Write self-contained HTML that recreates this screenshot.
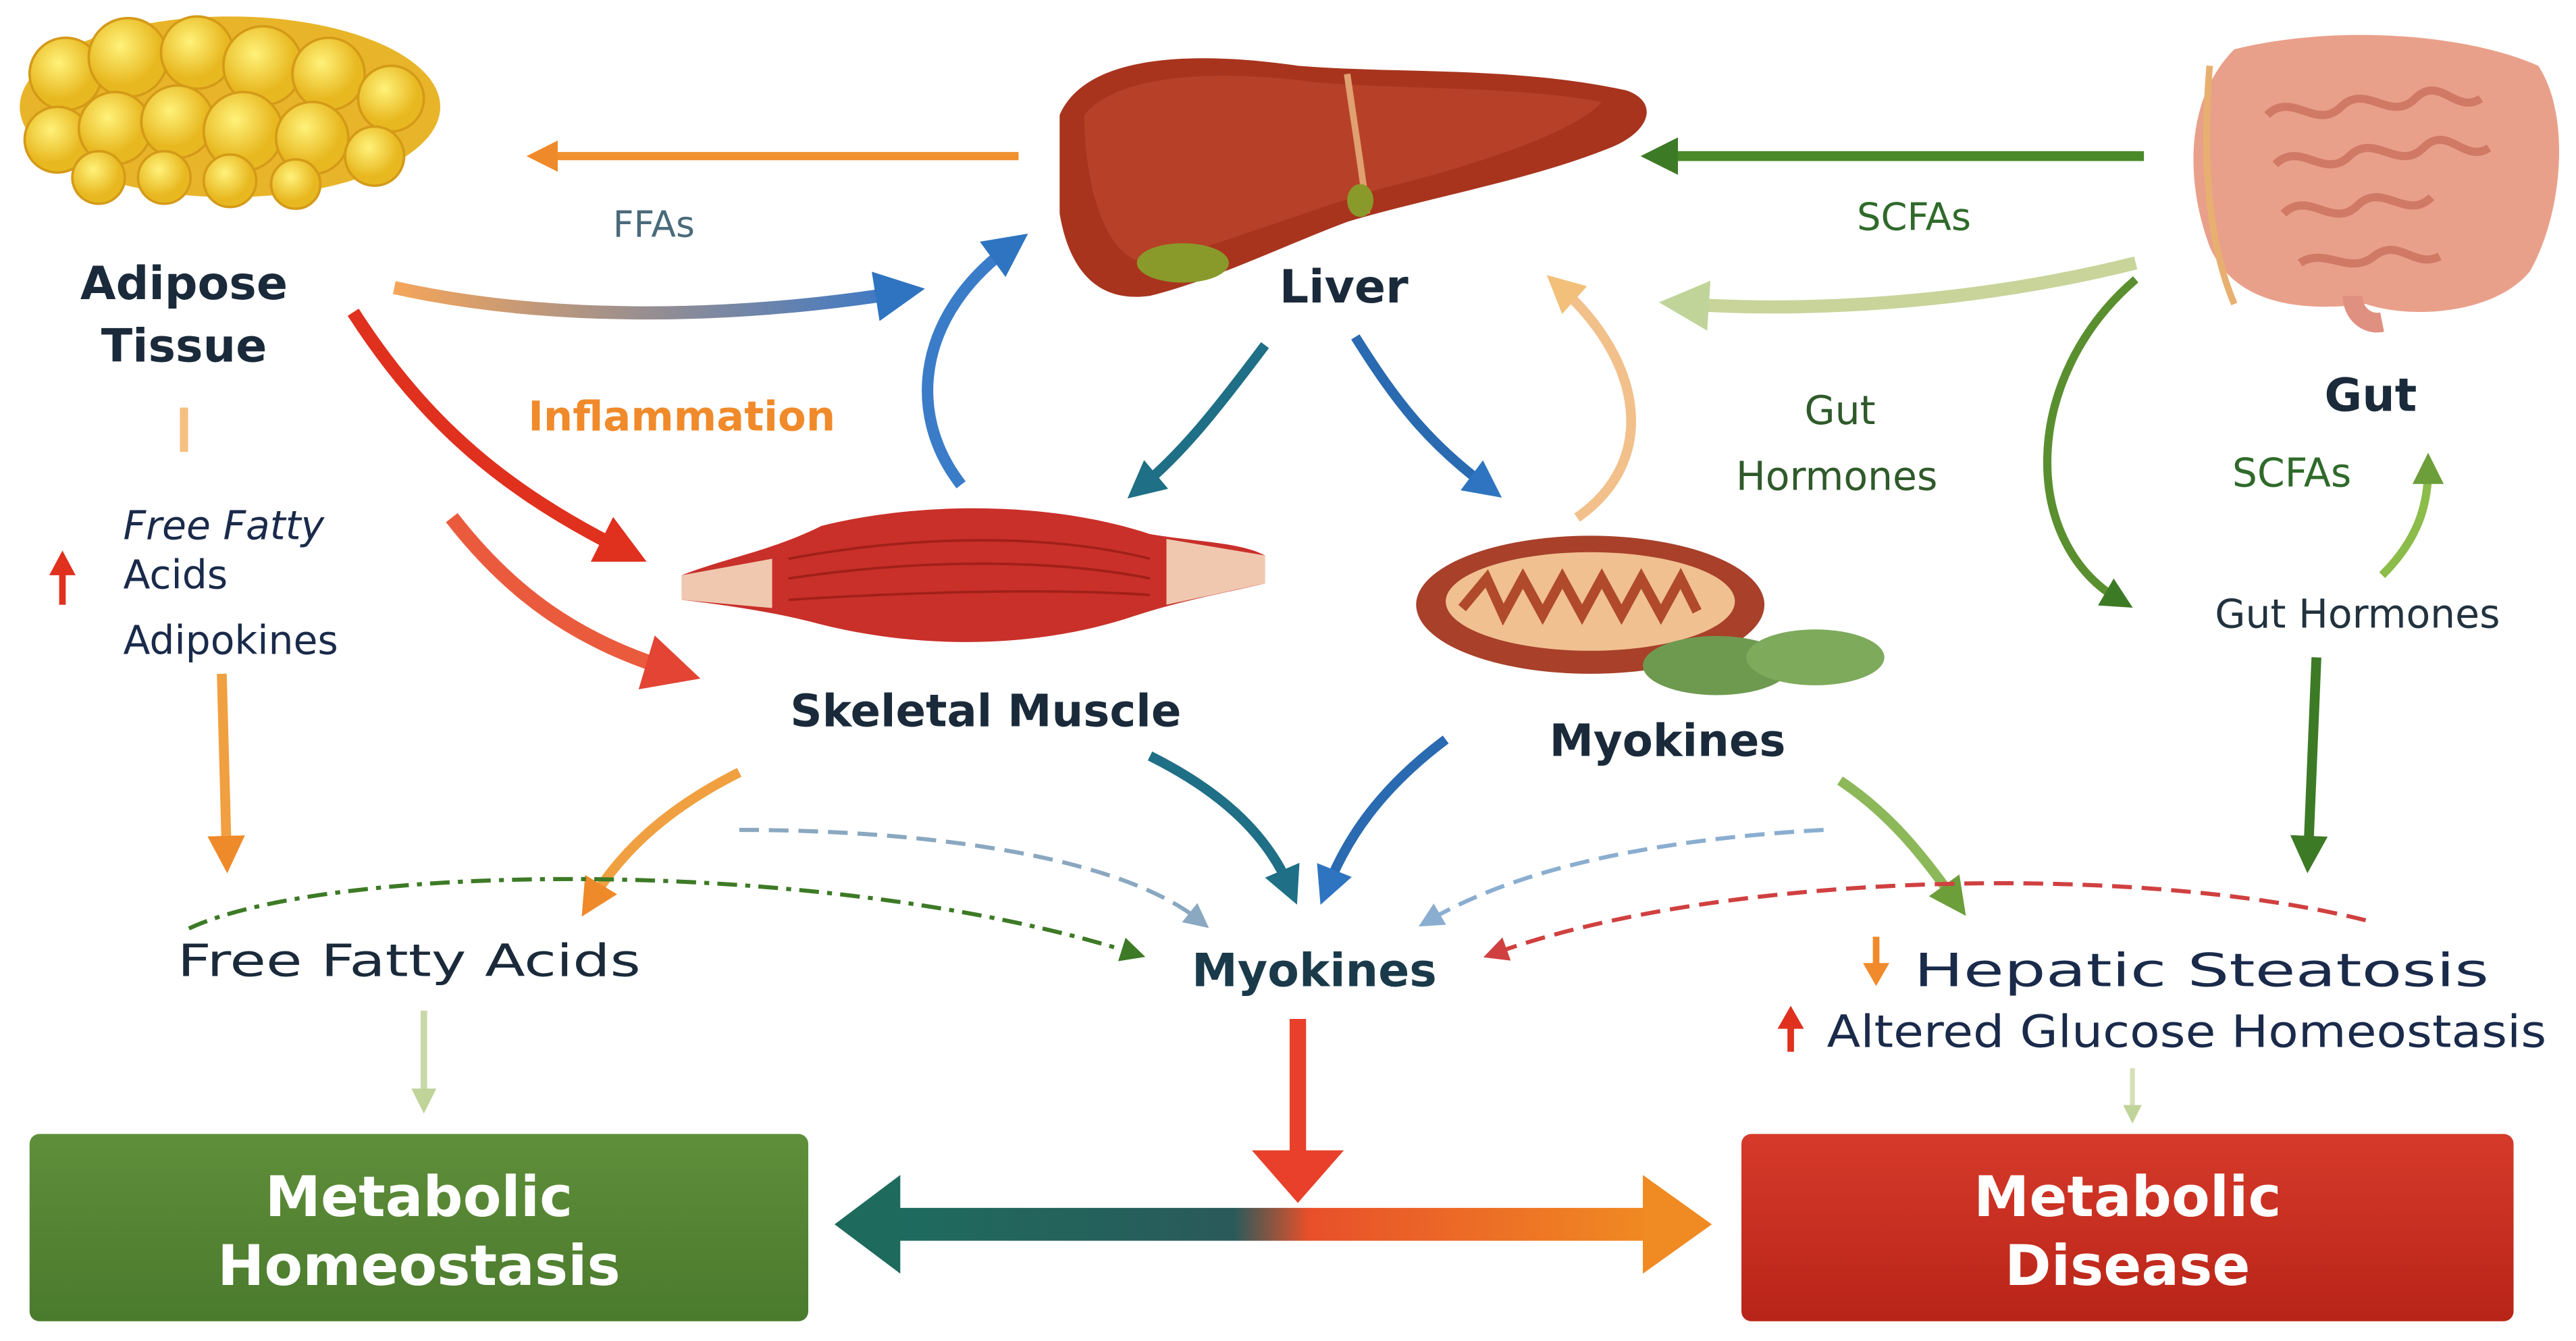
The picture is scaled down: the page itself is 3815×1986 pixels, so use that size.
<!DOCTYPE html>
<html><head><meta charset="utf-8"><style>
html,body{margin:0;padding:0;background:#fff;}
svg{display:block;}
text{font-family:"DejaVu Sans","Liberation Sans",sans-serif;}
</style></head><body>
<svg width="3815" height="1986" viewBox="0 0 1568 816" preserveAspectRatio="none" xmlns="http://www.w3.org/2000/svg">
<defs>
<linearGradient id="gh" x1="0" x2="1"><stop offset="0" stop-color="#1e6b5e"/><stop offset="0.45" stop-color="#2a5a5a"/><stop offset="0.55" stop-color="#e8502a"/><stop offset="1" stop-color="#f08a22"/></linearGradient>
<linearGradient id="gb" x1="0" y1="0" x2="0" y2="1"><stop offset="0" stop-color="#5f8f3a"/><stop offset="1" stop-color="#4a7a2c"/></linearGradient>
<linearGradient id="rb" x1="0" y1="0" x2="0" y2="1"><stop offset="0" stop-color="#d63a2a"/><stop offset="1" stop-color="#b82418"/></linearGradient>
<linearGradient id="adl" x1="0" x2="1"><stop offset="0" stop-color="#f5a55a"/><stop offset="1" stop-color="#3a78c8"/></linearGradient>
<radialGradient id="fat" cx="0.4" cy="0.35"><stop offset="0" stop-color="#fff27a"/><stop offset="1" stop-color="#e8b820"/></radialGradient>
<marker id="mO" viewBox="0 0 6 6" markerWidth="3.8" markerHeight="3.8" refX="3" refY="3" orient="auto"><path d="M0,0L6,3L0,6Z" fill="#ef8a2a"/></marker>
<marker id="mR" viewBox="0 0 6 6" markerWidth="3.8" markerHeight="3.8" refX="3" refY="3" orient="auto"><path d="M0,0L6,3L0,6Z" fill="#e0301e"/></marker>
<marker id="mB" viewBox="0 0 6 6" markerWidth="3.8" markerHeight="3.8" refX="3" refY="3" orient="auto"><path d="M0,0L6,3L0,6Z" fill="#2f74c0"/></marker>
<marker id="mT" viewBox="0 0 6 6" markerWidth="3.8" markerHeight="3.8" refX="3" refY="3" orient="auto"><path d="M0,0L6,3L0,6Z" fill="#1f6f86"/></marker>
<marker id="mG" viewBox="0 0 6 6" markerWidth="3.8" markerHeight="3.8" refX="3" refY="3" orient="auto"><path d="M0,0L6,3L0,6Z" fill="#3d7a26"/></marker>
<marker id="mLG" viewBox="0 0 6 6" markerWidth="3.8" markerHeight="3.8" refX="3" refY="3" orient="auto"><path d="M0,0L6,3L0,6Z" fill="#6c9e3a"/></marker>
<marker id="mPO" viewBox="0 0 6 6" markerWidth="3.8" markerHeight="3.8" refX="3" refY="3" orient="auto"><path d="M0,0L6,3L0,6Z" fill="#f2c07a"/></marker>
<marker id="mPG" viewBox="0 0 6 6" markerWidth="3.8" markerHeight="3.8" refX="3" refY="3" orient="auto"><path d="M0,0L6,3L0,6Z" fill="#c0d49a"/></marker>
<marker id="sm" viewBox="0 0 8 8" markerWidth="6" markerHeight="6" refX="4" refY="4" orient="auto"><path d="M0,0L8,4L0,8Z" fill="context-stroke"/></marker>
</defs>

<!-- Adipose -->
<g>
<ellipse cx="140" cy="65" rx="128" ry="55" fill="#e8b52a"/>
<g fill="url(#fat)" stroke="#d49a18" stroke-width="1.5">
<circle cx="40" cy="45" r="22"/><circle cx="78" cy="35" r="24"/><circle cx="120" cy="32" r="22"/><circle cx="160" cy="40" r="24"/><circle cx="200" cy="45" r="22"/><circle cx="238" cy="60" r="20"/>
<circle cx="35" cy="85" r="20"/><circle cx="70" cy="78" r="22"/><circle cx="108" cy="74" r="22"/><circle cx="148" cy="80" r="24"/><circle cx="190" cy="84" r="22"/><circle cx="228" cy="95" r="18"/>
<circle cx="60" cy="108" r="16"/><circle cx="100" cy="108" r="16"/><circle cx="140" cy="110" r="16"/><circle cx="180" cy="112" r="15"/>
</g></g>

<!-- Liver -->
<path d="M645,70 C660,35 720,30 790,40 C850,45 920,40 990,55 C1010,62 1005,80 980,90 C930,110 870,120 820,135 C780,150 740,170 700,180 C665,185 650,160 645,130 Z" fill="#a8341e"/>
<path d="M660,70 C680,45 740,42 800,50 C860,55 920,52 975,62 C960,80 900,100 840,115 C790,130 740,150 700,160 C672,160 660,110 660,70Z" fill="#b9452a" opacity="0.8"/>
<path d="M820,45 C825,80 830,110 832,130" stroke="#e0a070" stroke-width="4" fill="none"/>
<ellipse cx="720" cy="160" rx="28" ry="12" fill="#8a9a2a"/>
<ellipse cx="828" cy="122" rx="8" ry="10" fill="#8a9a2a"/>

<!-- Gut -->
<g>
<path d="M1360,30 C1420,15 1500,20 1545,40 C1565,70 1560,130 1540,165 C1520,190 1470,195 1440,185 C1400,190 1360,185 1345,150 C1330,110 1330,60 1360,30Z" fill="#e9a08a"/>
<g fill="none" stroke="#d07a66" stroke-width="5">
<path d="M1380,70 c15,-15 30,10 45,-5 s30,10 45,-5 s25,10 40,0"/>
<path d="M1385,100 c15,-15 30,10 45,-5 s30,10 45,-5 s25,10 40,0"/>
<path d="M1390,130 c15,-15 30,10 45,-5 s30,10 45,-5"/>
<path d="M1400,160 c15,-10 30,8 45,-4 s25,8 40,0"/>
</g>
<path d="M1345,40 C1340,100 1345,150 1360,185" stroke="#e8b070" stroke-width="4" fill="none"/>
<path d="M1432,180 C1432,190 1440,198 1450,196" stroke="#e09080" stroke-width="12" fill="none"/>
</g>

<!-- Muscle -->
<path d="M415,350 C440,340 470,335 500,320 C560,305 640,305 700,325 C730,330 755,330 770,338 L770,355 C750,360 720,365 690,375 C630,395 560,395 500,380 C470,372 440,368 415,365 Z" fill="#c9302a"/>
<path d="M415,350 L470,340 L470,370 L415,365Z" fill="#f0c8b0"/>
<path d="M710,328 L770,338 L770,355 L710,368Z" fill="#f0c8b0"/>
<g stroke="#a02018" stroke-width="1.5" fill="none"><path d="M480,340 C560,325 640,325 700,340"/><path d="M480,352 C560,340 640,340 700,352"/><path d="M480,365 C560,360 640,358 700,362"/></g>

<!-- Mitochondria -->
<ellipse cx="968" cy="368" rx="106" ry="42" fill="#a8402a"/>
<ellipse cx="968" cy="366" rx="88" ry="30" fill="#f0c090"/>
<path d="M890,370 l15,-18 l10,22 l12,-22 l12,22 l12,-22 l12,22 l12,-22 l12,22 l12,-22 l12,22 l12,-22 l10,20" stroke="#b04a2a" stroke-width="6" fill="none"/>
<ellipse cx="1045" cy="405" rx="45" ry="18" fill="#6e9a50"/>
<ellipse cx="1105" cy="400" rx="42" ry="17" fill="#7eaa5c"/>

<!-- Arrows -->
<path d="M620,95 L330,95" stroke="#f0902e" stroke-width="5" fill="none" marker-end="url(#mO)"/>
<path d="M240,175 C330,195 440,195 548,178" stroke="url(#adl)" stroke-width="8" fill="none" marker-end="url(#mB)"/>
<path d="M585,295 C550,250 560,190 615,150" stroke="#3a7cc8" stroke-width="7" fill="none" marker-end="url(#mB)"/>
<path d="M1305,95 L1010,95" stroke="#4a8a2a" stroke-width="6" fill="none" marker-end="url(#mG)"/>
<path d="M1300,160 C1200,185 1100,190 1025,185" stroke="#c8d49a" stroke-width="8" fill="none" marker-end="url(#mPG)"/>
<path d="M960,315 C1010,280 1000,220 950,175" stroke="#f2c08a" stroke-width="6" fill="none" marker-end="url(#mPO)"/>
<path d="M770,210 C740,250 720,275 695,296" stroke="#1f6f86" stroke-width="6" fill="none" marker-end="url(#mT)"/>
<path d="M825,205 C850,245 870,270 905,296" stroke="#2a6ab0" stroke-width="6" fill="none" marker-end="url(#mB)"/>
<path d="M215,190 C260,260 310,300 380,335" stroke="#e0301e" stroke-width="8" fill="none" marker-end="url(#mR)"/>
<path d="M275,315 C310,360 350,390 410,408" stroke="#e84a2a" stroke-width="9" fill="none" marker-end="url(#mR)" opacity="0.9"/>
<path d="M1300,170 C1230,230 1230,330 1290,365" stroke="#5a8f30" stroke-width="5" fill="none" marker-end="url(#mG)"/>
<path d="M1450,350 C1470,330 1478,310 1478,285" stroke="#8cbc4a" stroke-width="5" fill="none" marker-end="url(#mLG)"/>
<path d="M1410,400 L1405,520" stroke="#3d7a26" stroke-width="6" fill="none" marker-end="url(#mG)"/>
<path d="M135,410 L138,520" stroke="#f0a040" stroke-width="6" fill="none" marker-end="url(#mO)"/>
<path d="M450,470 C410,490 380,515 360,548" stroke="#f0a040" stroke-width="6" fill="none" marker-end="url(#mO)"/>
<path d="M700,460 C740,480 770,505 785,540" stroke="#1f6f86" stroke-width="6" fill="none" marker-end="url(#mT)"/>
<path d="M880,450 C840,480 820,510 808,540" stroke="#2a6ab0" stroke-width="6" fill="none" marker-end="url(#mB)"/>
<path d="M1120,475 C1150,495 1170,520 1190,548" stroke="#8cb85a" stroke-width="6" fill="none" marker-end="url(#mLG)"/>
<path d="M115,565 C200,525 500,520 690,580" stroke="#3d7a26" stroke-width="2.5" stroke-dasharray="12,5,3,5" fill="none" marker-end="url(#sm)"/>
<path d="M450,505 C560,505 680,520 730,560" stroke="#8aa8c0" stroke-width="2.5" stroke-dasharray="12,6" fill="none" marker-end="url(#sm)"/>
<path d="M1110,505 C1020,510 930,525 870,560" stroke="#8aaed0" stroke-width="2.5" stroke-dasharray="12,6" fill="none" marker-end="url(#sm)"/>
<path d="M1440,560 C1300,525 1050,530 910,580" stroke="#d04040" stroke-width="2.5" stroke-dasharray="12,6" fill="none" marker-end="url(#sm)"/>
<path d="M258,615 L258,670" stroke="#c8d8a8" stroke-width="4" fill="none" marker-end="url(#mPG)"/>
<path d="M1298,650 L1298,678" stroke="#d8e0b8" stroke-width="3" fill="none" marker-end="url(#mPG)"/>
<path d="M790,620 L790,705" stroke="#e8402a" stroke-width="10" fill="none"/>
<path d="M762,700 L818,700 L790,732Z" fill="#e8402a"/>
<rect x="545" y="735" width="458" height="20" fill="url(#gh)"/>
<path d="M548,715 L508,745 L548,775Z" fill="#1e6b5e"/>
<path d="M1000,715 L1042,745 L1000,775Z" fill="#f08a22"/>
<path d="M38,368 L38,345" stroke="#e0301e" stroke-width="4"/><path d="M30,350 L38,335 L46,350Z" fill="#e0301e"/>
<path d="M112,248 L112,275" stroke="#f5c080" stroke-width="5"/>

<!-- Boxes -->
<rect x="18" y="690" width="474" height="114" rx="6" fill="url(#gb)"/>
<rect x="1060" y="690" width="470" height="114" rx="6" fill="url(#rb)"/>
<g font-weight="bold" fill="#fff" font-size="34" text-anchor="middle">
<text x="255" y="740">Metabolic</text><text x="255" y="782">Homeostasis</text>
<text x="1295" y="740">Metabolic</text><text x="1295" y="782">Disease</text>
</g>

<!-- Labels -->
<g font-weight="bold" fill="#1a2a3a">
<text x="112" y="182" font-size="28" text-anchor="middle">Adipose</text>
<text x="112" y="220" font-size="28" text-anchor="middle">Tissue</text>
<text x="818" y="184" font-size="28" text-anchor="middle">Liver</text>
<text x="1443" y="250" font-size="28" text-anchor="middle">Gut</text>
<text x="600" y="442" font-size="27" text-anchor="middle">Skeletal Muscle</text>
<text x="1015" y="460" font-size="27" text-anchor="middle">Myokines</text>
</g>
<text x="398" y="144" font-size="22" fill="#4a6a7a" text-anchor="middle">FFAs</text>
<text x="1165" y="140" font-size="23" fill="#2f6a2a" text-anchor="middle">SCFAs</text>
<text x="415" y="262" font-size="25" font-weight="bold" fill="#f08a2a" text-anchor="middle">Inflammation</text>
<text x="1120" y="258" font-size="24" fill="#2f5a2a" text-anchor="middle">Gut</text>
<text x="1118" y="298" font-size="24" fill="#2f5a2a" text-anchor="middle">Hormones</text>
<text x="1395" y="296" font-size="24" fill="#2f6a2a" text-anchor="middle">SCFAs</text>
<text x="1435" y="382" font-size="24" fill="#22323f" text-anchor="middle">Gut Hormones</text>
<text x="75" y="328" font-size="24" fill="#1a2a4a" font-style="italic">Free Fatty</text>
<text x="75" y="358" font-size="24" fill="#1a2a4a">Acids</text>
<text x="75" y="398" font-size="24" fill="#1a2a4a">Adipokines</text>
<text x="108" y="594" font-size="27" fill="#1a2a3a" textLength="282" lengthAdjust="spacingAndGlyphs">Free Fatty Acids</text>
<text x="800" y="600" font-size="28" font-weight="bold" fill="#1a3a4a" text-anchor="middle">Myokines</text>
<text x="1165" y="600" font-size="28" fill="#1a2a4a" textLength="350" lengthAdjust="spacingAndGlyphs">Hepatic  Steatosis</text>
<text x="1112" y="637" font-size="27" fill="#1a2a4a" textLength="438" lengthAdjust="spacingAndGlyphs">Altered Glucose Homeostasis</text>
<path d="M1142,570 L1142,590" stroke="#f08a2a" stroke-width="4"/><path d="M1134,586 L1142,600 L1150,586Z" fill="#f08a2a"/>
<path d="M1090,640 L1090,622" stroke="#e0301e" stroke-width="4"/><path d="M1082,626 L1090,612 L1098,626Z" fill="#e0301e"/>
</svg>
</body></html>
